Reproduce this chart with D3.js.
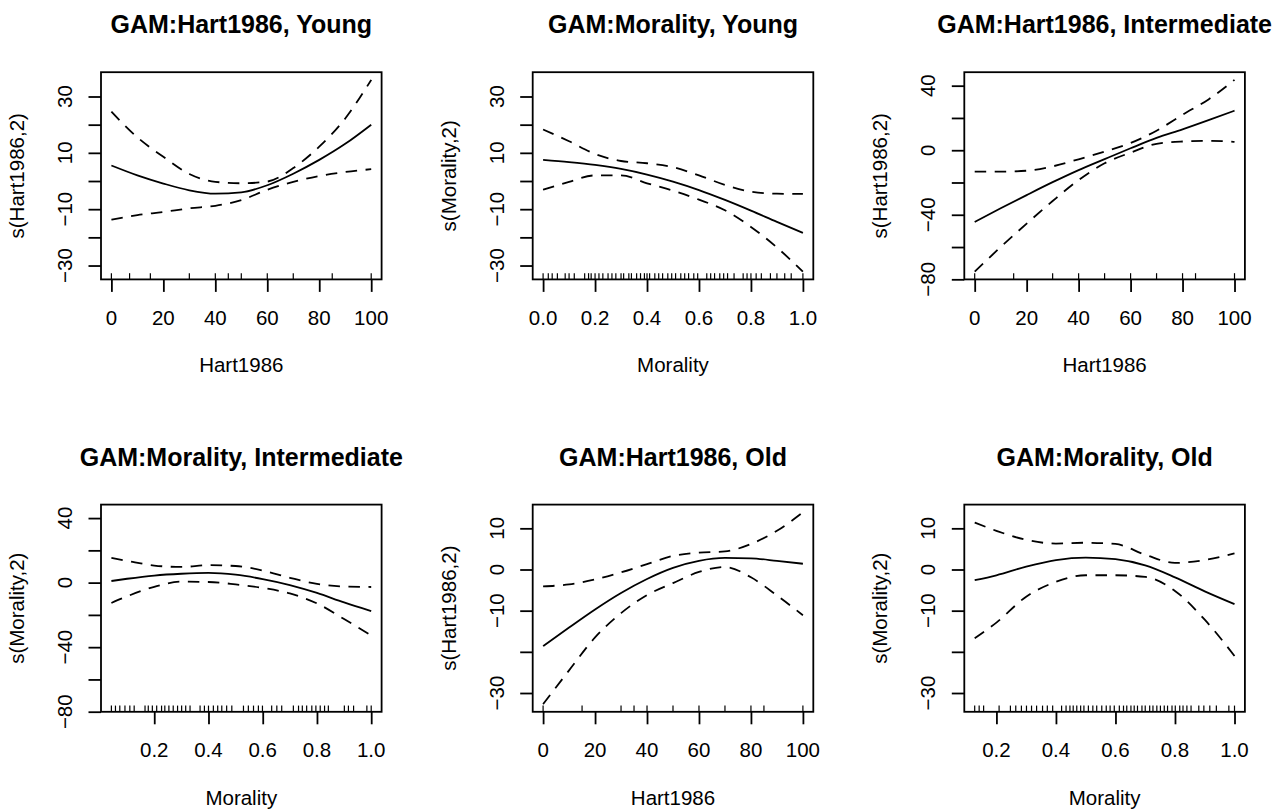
<!DOCTYPE html>
<html>
<head>
<meta charset="utf-8">
<script src="https://cdn.jsdelivr.net/npm/d3@7"></script>
<style>
  html, body { margin: 0; padding: 0; background: #fff; }
  svg { display: block; }
  text { font-family: "Liberation Sans", Arial, Helvetica, sans-serif; fill: #000; }
</style>
</head>
<body>
<svg id="chart" width="1287" height="810"></svg>
<script>
// ---------------- DATA ----------------
const titles = ["GAM:Hart1986, Young", "GAM:Morality, Young", "GAM:Hart1986, Intermediate",
                "GAM:Morality, Intermediate", "GAM:Hart1986, Old", "GAM:Morality, Old"];
const xLabels = ["Hart1986", "Morality", "Hart1986", "Morality", "Hart1986", "Morality"];
const yLabels = ["s(Hart1986,2)", "s(Morality,2)", "s(Hart1986,2)", "s(Morality,2)", "s(Hart1986,2)", "s(Morality,2)"];
const groups = ["Young", "Young", "Intermediate", "Intermediate", "Old", "Old"];

// Panel 1: Hart1986, Young
const hartX = [0, 10, 20, 30, 40, 50, 60, 70, 80, 90, 100];
const p1Fit   = [5.5, 2.0, -0.9, -3.3, -4.5, -4.0, -1.5, 2.6, 7.5, 13.2, 20.0];
const p1Upper = [24.6, 15.5, 8.6, 2.5, -0.3, -0.8, -0.2, 4.6, 12.2, 22.2, 35.9];
const p1Lower = [-13.7, -12.1, -11.0, -9.7, -8.8, -6.8, -3.1, -0.3, 1.8, 3.2, 4.2];
const p1Rug   = [0, 7, 15, 30, 40, 45, 50, 60, 70, 85, 100];

// Panel 2: Morality, Young
const p2X     = [0, 0.1, 0.2, 0.3, 0.4, 0.5, 0.6, 0.7, 0.8, 0.9, 1.0];
const p2Fit   = [7.5, 6.7, 5.7, 4.3, 2.3, -0.2, -3.2, -6.7, -10.5, -14.5, -18.4];
const p2Upper = [18.3, 14.1, 9.6, 7.1, 6.3, 4.9, 2.0, -1.4, -3.8, -4.5, -4.6];
const p2Lower = [-3.1, -0.3, 2.0, 2.0, -0.8, -3.4, -6.6, -10.4, -16.3, -23.6, -32.2];
const p2Rug   = [0, 0.02, 0.035, 0.055, 0.085, 0.10, 0.12, 0.16, 0.175, 0.185, 0.20, 0.215, 0.23, 0.25,
                 0.265, 0.28, 0.30, 0.31, 0.33, 0.34, 0.36, 0.375, 0.39, 0.40, 0.41, 0.43, 0.445, 0.46,
                 0.48, 0.495, 0.51, 0.53, 0.545, 0.56, 0.58, 0.595, 0.63, 0.645, 0.66, 0.68, 0.695, 0.71,
                 0.735, 0.77, 0.785, 0.80, 0.82, 0.84, 0.875, 0.90, 0.93, 0.955, 1.0];

// Panel 3: Hart1986, Intermediate
const p3Fit   = [-44.5, -36.0, -27.8, -19.8, -12.3, -5.5, 1.2, 7.6, 12.9, 18.6, 24.5];
const p3Upper = [-13.3, -13.3, -12.7, -10.0, -5.6, -0.8, 4.5, 12.1, 22.0, 31.5, 43.6];
const p3Lower = [-75.3, -60.0, -45.5, -31.5, -18.5, -8.1, -1.5, 4.0, 5.4, 5.8, 5.2];
const p3Rug   = [0, 15, 30, 40, 50, 60, 70, 80, 85, 100];

// Panel 4: Morality, Intermediate
const p4X     = [0.042, 0.1, 0.2, 0.3, 0.4, 0.5, 0.6, 0.7, 0.8, 0.9, 1.0];
const p4Fit   = [1.0, 2.4, 4.4, 5.5, 6.0, 4.9, 2.2, -1.5, -6.4, -12.3, -17.6];
const p4Upper = [15.3, 13.5, 10.6, 9.7, 10.8, 10.3, 7.5, 3.0, -0.8, -2.4, -2.7];
const p4Lower = [-12.6, -8.5, -2.6, 0.6, 0.4, -1.1, -3.3, -6.7, -12.9, -22.6, -32.7];
const p4Rug   = [0.042, 0.057, 0.073, 0.092, 0.11, 0.126, 0.166, 0.178, 0.193, 0.209, 0.227, 0.239, 0.254,
                 0.27, 0.286, 0.301, 0.316, 0.332, 0.369, 0.385, 0.4, 0.418, 0.434, 0.449, 0.467, 0.486,
                 0.529, 0.547, 0.566, 0.584, 0.599, 0.633, 0.652, 0.67, 0.713, 0.732, 0.746, 0.762, 0.781,
                 0.796, 0.812, 0.828, 0.842, 0.901, 0.916, 0.935, 0.984, 1.0];

// Panel 5: Hart1986, Old
const p5Fit   = [-18.6, -14.1, -9.7, -5.7, -2.3, 0.4, 2.1, 2.8, 2.7, 2.1, 1.4];
const p5Upper = [-4.1, -3.6, -2.4, -0.7, 1.3, 3.3, 4.1, 4.4, 6.2, 9.4, 13.9];
const p5Lower = [-32.7, -24.5, -16.5, -10.6, -6.2, -3.3, -0.6, 0.6, -1.9, -6.3, -11.1];
const p5Rug   = [0, 15, 30, 35, 40, 50, 60, 70, 80, 85, 100];

// Panel 6: Morality, Old
const p6X     = [0.127, 0.2, 0.3, 0.4, 0.5, 0.6, 0.7, 0.8, 0.9, 1.0];
const p6Fit   = [-2.6, -1.4, 0.7, 2.3, 2.9, 2.5, 1.0, -1.9, -5.3, -8.4];
const p6Upper = [11.4, 9.4, 7.2, 6.3, 6.5, 6.2, 3.6, 1.6, 2.3, 3.9];
const p6Lower = [-16.7, -12.9, -6.6, -3.0, -1.4, -1.4, -1.8, -5.2, -12.2, -21.0];
const p6Rug   = [0.127, 0.142, 0.157, 0.209, 0.247, 0.265, 0.284, 0.301, 0.318, 0.335, 0.355, 0.371, 0.389,
                 0.419, 0.434, 0.447, 0.458, 0.47, 0.483, 0.494, 0.509, 0.524, 0.537, 0.554, 0.569, 0.582,
                 0.596, 0.613, 0.627, 0.638, 0.652, 0.663, 0.674, 0.689, 0.7, 0.715, 0.726, 0.739, 0.751,
                 0.764, 0.775, 0.79, 0.801, 0.816, 0.827, 0.84, 0.854, 0.88, 0.897, 0.917, 0.939, 0.981, 1.0];

// Tick values / labels
const hartTicks = [0, 20, 40, 60, 80, 100];
const moralTicksFull = [0, 0.2, 0.4, 0.6, 0.8, 1.0];
const moralTicksPart = [0.2, 0.4, 0.6, 0.8, 1.0];
const yTicksYoung = [-30, -20, -10, 0, 10, 20, 30];
const yLabYoung = [-30, -10, 10, 30];
const yTicksInter = [-80, -60, -40, -20, 0, 20, 40];
const yLabInter = [-80, -40, 0, 40];
const yTicksOld = [-30, -20, -10, 0, 10];
const yLabOld = [-30, -10, 0, 10];

// ---------------- ASSEMBLY ----------------
const panels = [
  {x: hartX, fit: p1Fit, up: p1Upper, lo: p1Lower, rug: p1Rug, xt: hartTicks, fmt: d3.format("d"), yt: yTicksYoung, yl: yLabYoung},
  {x: p2X,   fit: p2Fit, up: p2Upper, lo: p2Lower, rug: p2Rug, xt: moralTicksFull, fmt: d3.format(".1f"), yt: yTicksYoung, yl: yLabYoung},
  {x: hartX, fit: p3Fit, up: p3Upper, lo: p3Lower, rug: p3Rug, xt: hartTicks, fmt: d3.format("d"), yt: yTicksInter, yl: yLabInter},
  {x: p4X,   fit: p4Fit, up: p4Upper, lo: p4Lower, rug: p4Rug, xt: moralTicksPart, fmt: d3.format(".1f"), yt: yTicksInter, yl: yLabInter},
  {x: hartX, fit: p5Fit, up: p5Upper, lo: p5Lower, rug: p5Rug, xt: hartTicks, fmt: d3.format("d"), yt: yTicksOld, yl: yLabOld},
  {x: p6X,   fit: p6Fit, up: p6Upper, lo: p6Lower, rug: p6Rug, xt: moralTicksPart, fmt: d3.format(".1f"), yt: yTicksOld, yl: yLabOld}
];
panels.forEach((p, i) => { p.title = titles[i]; p.xlab = xLabels[i]; p.ylab = yLabels[i]; p.group = groups[i]; });

// shared y-limits per group (R style: range + 4% padding)
const groupExtent = {};
panels.forEach(p => {
  const e = d3.extent([...p.fit, ...p.up, ...p.lo]);
  const g = groupExtent[p.group] || [Infinity, -Infinity];
  groupExtent[p.group] = [Math.min(g[0], e[0]), Math.max(g[1], e[1])];
});
function pad(e) { const r = e[1] - e[0]; return [e[0] - 0.04 * r, e[1] + 0.04 * r]; }

// ---------------- LAYOUT ----------------
const colLeft = [101, 532.7, 964.3];
const rowTop = [72.2, 504.6];
const boxW = 280.6, boxH = 207.2;
const fontBase = 20.5, fontTitle = 25;
const lw = 1.8;
const minus = s => s.replace(/-/g, "\u2212");

const svg = d3.select("#chart");
svg.append("rect").attr("width", 1287).attr("height", 810).attr("fill", "#fff");

panels.forEach((p, i) => {
  const left = colLeft[i % 3], top = rowTop[Math.floor(i / 3)];
  const g = svg.append("g").attr("transform", `translate(${left},${top})`);

  const xDom = pad(d3.extent([...p.x, ...p.rug]));
  const yDom = pad(groupExtent[p.group]);
  const xs = d3.scaleLinear().domain(xDom).range([0, boxW]);
  const ys = d3.scaleLinear().domain(yDom).range([boxH, 0]);

  // curves
  const line = (arr) => d3.line().x((d, k) => xs(p.x[k])).y(d => ys(d)).curve(d3.curveMonotoneX)(arr);
  g.append("path").attr("d", line(p.fit)).attr("fill", "none").attr("stroke", "#000").attr("stroke-width", lw);
  [p.up, p.lo].forEach(arr => {
    g.append("path").attr("d", line(arr)).attr("fill", "none").attr("stroke", "#000")
      .attr("stroke-width", lw).attr("stroke-dasharray", "11.5,8.5");
  });

  // rug
  g.append("g").selectAll("line").data(p.rug).join("line")
    .attr("x1", d => xs(d)).attr("x2", d => xs(d))
    .attr("y1", boxH).attr("y2", boxH - 0.03 * boxH)
    .attr("stroke", "#000").attr("stroke-width", 1.2);

  // axes (ticks only; R draws labels separately)
  const xAxis = d3.axisBottom(xs).tickValues(p.xt).tickSize(12.5).tickFormat("");
  const xg = g.append("g").attr("transform", `translate(0,${boxH})`).call(xAxis);
  xg.select(".domain").remove();
  xg.selectAll("line").attr("stroke", "#000").attr("stroke-width", lw);
  g.append("g").selectAll("text").data(p.xt).join("text")
    .attr("x", d => xs(d)).attr("y", boxH + 45.5)
    .attr("text-anchor", "middle").attr("font-size", fontBase)
    .text(d => p.fmt(d));

  const yAxis = d3.axisLeft(ys).tickValues(p.yt).tickSize(12.5).tickFormat("");
  const yg = g.append("g").call(yAxis);
  yg.select(".domain").remove();
  yg.selectAll("line").attr("stroke", "#000").attr("stroke-width", lw);
  g.append("g").selectAll("text").data(p.yl).join("text")
    .attr("transform", d => `translate(-29,${ys(d)}) rotate(-90)`)
    .attr("text-anchor", "middle").attr("font-size", fontBase)
    .text(d => minus(String(d)));

  // box
  g.append("rect").attr("x", 0).attr("y", 0).attr("width", boxW).attr("height", boxH)
    .attr("fill", "none").attr("stroke", "#000").attr("stroke-width", lw);

  // titles & labels
  g.append("text").attr("x", boxW / 2).attr("y", -39).attr("text-anchor", "middle")
    .attr("font-size", fontTitle).attr("font-weight", "bold").text(p.title);
  g.append("text").attr("x", boxW / 2).attr("y", boxH + 93).attr("text-anchor", "middle")
    .attr("font-size", fontBase).text(p.xlab);
  g.append("text").attr("transform", `translate(-77,${boxH / 2}) rotate(-90)`)
    .attr("text-anchor", "middle").attr("font-size", fontBase).text(p.ylab);
});
</script>
</body>
</html>
